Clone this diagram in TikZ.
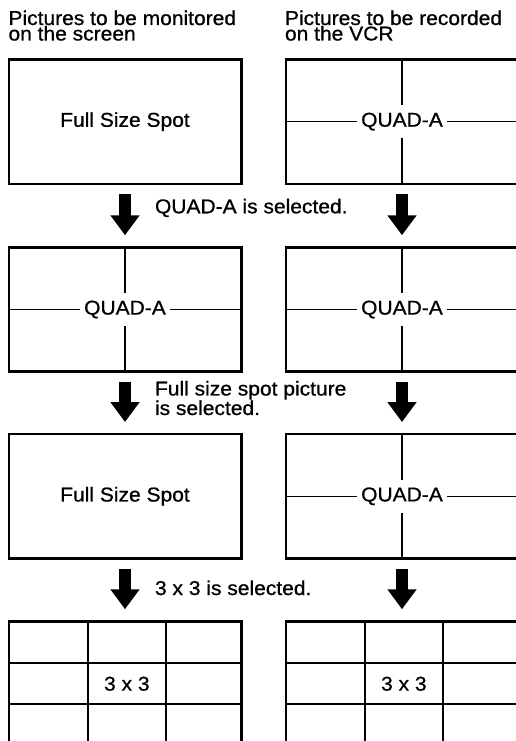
\documentclass[tikz,border=0pt]{standalone}
\usepackage{fontspec}
\setmainfont{Liberation Sans}[FakeStretch=1.05,FakeBold=0.8]
\usetikzlibrary{arrows.meta,calc}
\newcommand\lblfont{\fontsize{20}{15.5}\selectfont}
\newcommand\steplblfont{\fontsize{20}{19.5}\selectfont}
\begin{document}
\lineskiplimit=-100pt
\lineskip=0pt
\begin{tikzpicture}[x=1pt,y=-1pt,
  screen/.style={draw, line width=2.7pt, minimum width=232.3pt, minimum height=124.5pt, inner sep=0pt, outer sep=0pt},
  lbl/.style={inner sep=0pt, outer sep=0pt, font=\lblfont},
  quadline/.style={line width=1.3pt},
  gridline/.style={line width=1.8pt},
  quadlbl/.style={lbl, fill=white, inner xsep=4pt, minimum height=33pt},
  flowarrow/.style={line width=12pt, -{Triangle[width=28pt,length=20pt]}, shorten <=10.5pt, shorten >=12pt}
]
\useasboundingbox (0,0) rectangle (516,741);
\fill[white] (0,0) rectangle (516,741);
\clip (0,0) rectangle (516,741);

% headers
\node[lbl, anchor=north west, align=left] (hl) at (8.5,10.5) {Pictures to be monitored\\on the screen};
\node[lbl, anchor=north west, align=left] (hr) at (285,10.5) {Pictures to be recorded\\on the VCR};

% screens
\node[screen] (L1) at (125,121.6) {};
\node[screen] (R1) at (402,121.6) {};
\node[screen] (L2) at (125,309.5) {};
\node[screen] (R2) at (402,309.5) {};
\node[screen] (L3) at (125,496.3) {};
\node[screen] (R3) at (402,496.3) {};
\node[screen] (L4) at (125,683.5) {};
\node[screen] (R4) at (402,683.5) {};

% full size spot
\node[lbl] (t1) at (L1) {Full Size Spot};
\node[lbl] (t3) at (L3) {Full Size Spot};

% quad screens
\foreach \b in {R1,L2,R2,R3}{
  \draw[quadline] (\b.north) -- (\b.south) (\b.west) -- (\b.east);
  \node[quadlbl] (q\b) at (\b) {QUAD-A};
}

% 3x3 screens
\foreach \b in {L4,R4}{
  \draw[gridline] ($(\b.north west)+(79,0)$) -- ($(\b.south west)+(79,0)$)
                  ($(\b.north west)+(157,0)$) -- ($(\b.south west)+(157,0)$)
                  ($(\b.north west)+(0,42)$) -- ($(\b.north east)+(0,42)$)
                  ($(\b.north west)+(0,83)$) -- ($(\b.north east)+(0,83)$);
  \node[lbl] (g\b) at ($(\b.north west)+(118,62.5)$) {3 x 3};
}

% arrows
\draw[flowarrow] (L1.south) -- (L2.north);
\draw[flowarrow] (R1.south) -- (R2.north);
\draw[flowarrow] (L2.south) -- (L3.north);
\draw[flowarrow] (R2.south) -- (R3.north);
\draw[flowarrow] (L3.south) -- (L4.north);
\draw[flowarrow] (R3.south) -- (R4.north);

% step labels
\node[lbl, anchor=base west] (s1) at (155,213.3) {QUAD-A is selected.};
\node[lbl, anchor=north west, align=left, font=\steplblfont] (s2) at (155,381) {Full size spot picture\\is selected.};
\node[lbl, anchor=base west] (s3) at (155,595) {3 x 3 is selected.};
\end{tikzpicture}
\end{document}
